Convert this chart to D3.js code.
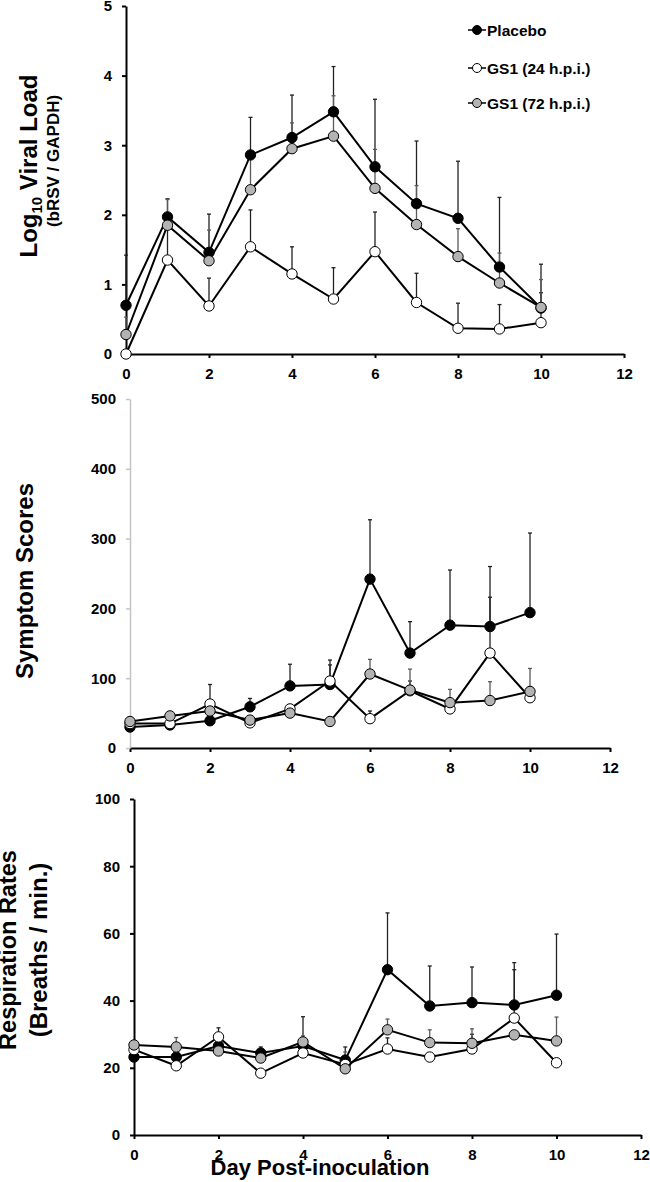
<!DOCTYPE html>
<html>
<head>
<meta charset="utf-8">
<script src="https://cdn.jsdelivr.net/npm/d3@7"></script>
<style>
  html, body { margin: 0; padding: 0; background: #fff; }
  svg { display: block; font-family: "Liberation Sans", Arial, sans-serif; font-weight: bold; }
</style>
</head>
<body>
<svg id="chart" width="650" height="1182"></svg>
<script>
// ---------- data ----------
const days = [0, 1, 2, 3, 4, 5, 6, 7, 8, 9, 10];
const seriesNames = ["Placebo", "GS1 (24 h.p.i.)", "GS1 (72 h.p.i.)"];
const xTicks = [0, 2, 4, 6, 8, 10, 12];

// Viral load (log10 bRSV / GAPDH)
const viralPlacebo = [0.70, 1.97, 1.46, 2.86, 3.11, 3.48, 2.69, 2.16, 1.95, 1.25, 0.66];
const viralPlaceboErr = [0.72, 0.26, 0.55, 0.54, 0.61, 0.65, 0.97, 0.90, 0.82, 1.00, 0.63];
const viral24 = [0.00, 1.35, 0.69, 1.54, 1.15, 0.79, 1.47, 0.74, 0.37, 0.36, 0.45];
const viral24Err = [0.00, 0.50, 0.40, 0.53, 0.39, 0.45, 0.57, 0.42, 0.36, 0.35, 0.43];
const viral72 = [0.28, 1.85, 1.34, 2.36, 2.95, 3.13, 2.38, 1.86, 1.40, 1.02, 0.67];
const viral72Err = [0.25, 0.37, 0.44, 0.50, 0.37, 0.58, 0.56, 0.56, 0.40, 0.43, 0.40];
const viralTicks = [0, 1, 2, 3, 4, 5];

// Symptom scores
const symPlacebo = [30, 33, 39, 59, 89, 91, 242, 136, 176, 174, 194];
const symPlaceboErr = [0, 0, 0, 12, 31, 35, 85, 45, 79, 86, 114];
const sym24 = [35, 35, 63, 36, 56, 96, 42, 82, 56, 136, 72];
const sym24Err = [0, 0, 28, 0, 0, 23, 11, 14, 0, 80, 16];
const sym72 = [38, 46, 53, 40, 50, 38, 106, 83, 65, 68, 81];
const sym72Err = [0, 0, 0, 0, 0, 0, 21, 30, 19, 27, 33];
const symTicks = [0, 100, 200, 300, 400, 500];

// Respiration rates (breaths / min.)
const respPlacebo = [23.2, 23.2, 26.5, 24.4, 26.5, 22.3, 49.2, 38.4, 39.4, 38.7, 41.6];
const respPlaceboErr = [0.5, 0.5, 1.0, 1.8, 8.7, 3.9, 16.9, 11.9, 10.6, 12.6, 18.2];
const resp24 = [25.4, 20.6, 29.2, 18.4, 24.4, 21.0, 25.6, 23.2, 25.6, 34.8, 21.5];
const resp24Err = [0.5, 0.5, 2.7, 0.5, 0.5, 0.5, 3.3, 0.5, 4.4, 14.4, 0.5];
const resp72 = [26.8, 26.2, 25.0, 22.9, 27.7, 19.7, 31.3, 27.5, 27.3, 29.8, 28.0];
const resp72Err = [0.5, 2.8, 0.5, 0.5, 1.8, 5.0, 3.2, 3.8, 4.3, 0.5, 7.1];
const respTicks = [0, 20, 40, 60, 80, 100];

// ---------- styles ----------
const fills = ["#000000", "#ffffff", "#b3b3b3"];
const errColors = ["#222222", "#222222", "#5a5a5a"];

const svg = d3.select("#chart");

function panel(cfg) {
  const x = d3.scaleLinear().domain([0, 12]).range([cfg.x0, cfg.x1]);
  const y = d3.scaleLinear().domain([0, cfg.ymax]).range([cfg.y0, cfg.y1]);
  const g = svg.append("g");

  // axes
  const xa = g.append("g").attr("transform", `translate(0,${cfg.y0})`)
    .call(d3.axisBottom(x).tickValues(xTicks).tickFormat(d3.format("d"))
      .tickSize(4).tickSizeOuter(0).tickPadding(10));
  const ya = g.append("g").attr("transform", `translate(${cfg.x0},0)`)
    .call(d3.axisLeft(y).tickValues(cfg.ticks).tickFormat(d3.format("d"))
      .tickSize(4).tickSizeOuter(0).tickPadding(10));
  [xa, ya].forEach(a => {
    a.attr("font-size", 15).attr("font-family", null);
    a.selectAll("text").attr("font-size", 15).attr("font-weight", "bold").attr("fill", "#000");
    a.selectAll("path,line").attr("stroke", "#000").attr("stroke-width", 2);
  });
  if (cfg.grayY) ya.selectAll("path,line").attr("stroke", "#c4c4c4").attr("stroke-width", 1.5);

  const line = d3.line().x((d, i) => x(days[i])).y(d => y(d));

  cfg.series.forEach((s, si) => {
    // error bars (upper only)
    const eb = g.append("g").attr("stroke", errColors[si]).attr("stroke-width", 1.3);
    s.vals.forEach((v, i) => {
      const e = s.err[i];
      if (!e) return;
      const cx = x(days[i]);
      eb.append("line").attr("x1", cx).attr("x2", cx).attr("y1", y(v)).attr("y2", y(v + e));
      eb.append("line").attr("x1", cx - 2).attr("x2", cx + 2).attr("y1", y(v + e)).attr("y2", y(v + e));
    });
  });
  cfg.series.forEach((s, si) => {
    g.append("path").datum(s.vals).attr("d", line)
      .attr("fill", "none").attr("stroke", "#000").attr("stroke-width", 2);
    g.append("g").selectAll("circle").data(s.vals).join("circle")
      .attr("cx", (d, i) => x(days[i])).attr("cy", d => y(d)).attr("r", 5.2)
      .attr("fill", fills[si]).attr("stroke", "#000").attr("stroke-width", 1);
  });
}

panel({
  x0: 126, x1: 624, y0: 354, y1: 6, ymax: 5, ticks: viralTicks,
  series: [
    { vals: viralPlacebo, err: viralPlaceboErr },
    { vals: viral24, err: viral24Err },
    { vals: viral72, err: viral72Err }
  ]
});
panel({
  x0: 130, x1: 610, y0: 748, y1: 399, ymax: 500, ticks: symTicks, grayY: true,
  series: [
    { vals: symPlacebo, err: symPlaceboErr },
    { vals: sym24, err: sym24Err },
    { vals: sym72, err: sym72Err }
  ]
});
panel({
  x0: 134, x1: 641, y0: 1135, y1: 799, ymax: 100, ticks: respTicks,
  series: [
    { vals: respPlacebo, err: respPlaceboErr },
    { vals: resp24, err: resp24Err },
    { vals: resp72, err: resp72Err }
  ]
});

// ---------- titles ----------
function vtext(x, y, size, txt) {
  return svg.append("text").attr("transform", `translate(${x},${y}) rotate(-90)`)
    .attr("text-anchor", "middle").attr("font-size", size).attr("font-weight", "bold").text(txt);
}
const t1 = svg.append("text").attr("transform", "translate(37,166) rotate(-90)")
  .attr("text-anchor", "middle").attr("font-size", 24).attr("font-weight", "bold");
t1.append("tspan").text("Log");
t1.append("tspan").attr("font-size", 15).attr("dy", 5).text("10");
t1.append("tspan").attr("dy", -5).text(" Viral Load");
vtext(59, 161, 17, "(bRSV / GAPDH)");
vtext(33, 581, 24, "Symptom Scores");
vtext(16, 950, 23.5, "Respiration Rates");
vtext(47, 950, 24, "(Breaths / min.)");

svg.append("text").attr("x", 320).attr("y", 1175).attr("text-anchor", "middle")
  .attr("font-size", 22).attr("font-weight", "bold").text("Day Post-inoculation");

// ---------- legend ----------
const legY = [30, 68, 103];
const leg = svg.append("g");
seriesNames.forEach((n, i) => {
  leg.append("line").attr("x1", 468).attr("x2", 486).attr("y1", legY[i]).attr("y2", legY[i])
    .attr("stroke", "#000").attr("stroke-width", 1.5);
  leg.append("circle").attr("cx", 477).attr("cy", legY[i]).attr("r", 4.5)
    .attr("fill", fills[i]).attr("stroke", "#000").attr("stroke-width", 1);
  leg.append("text").attr("x", 487).attr("y", legY[i]).attr("dy", "0.36em")
    .attr("font-size", 15.5).attr("font-weight", "bold").text(n);
});
</script>
</body>
</html>
